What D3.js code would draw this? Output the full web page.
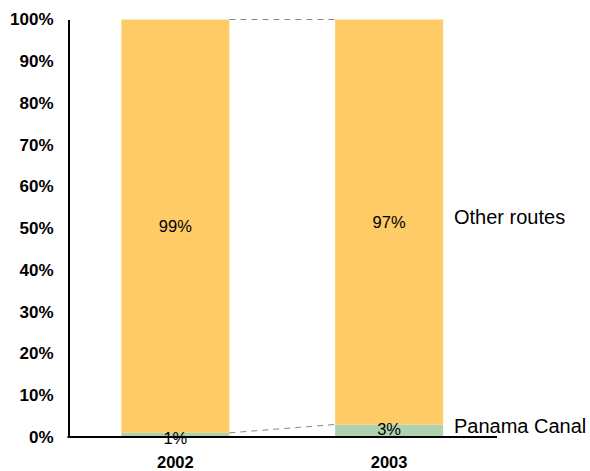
<!DOCTYPE html>
<html>
<head>
<meta charset="utf-8">
<script src="https://cdn.jsdelivr.net/npm/d3@7/dist/d3.min.js"></script>
<style>
  html, body { margin: 0; padding: 0; background: #fff; }
  svg { display: block; }
  text { font-family: "Liberation Sans", Arial, sans-serif; fill: #000; }
</style>
</head>
<body>
<svg id="chart" width="590" height="471"></svg>
<script>
// Share of traffic by route (percent)
const years = ["2002", "2003"];
const seriesNames = ["Panama Canal", "Other routes"];
const panamaCanal = [1, 3];
const otherRoutes = [99, 97];
const yTicks = [0, 10, 20, 30, 40, 50, 60, 70, 80, 90, 100];

const colors = { "Panama Canal": "#afd2ae", "Other routes": "#fecb66" };

const svg = d3.select("#chart");
const margin = { left: 68.5, top: 19.5, bottom: 34 };
const W = 590, H = 471;
const plotRight = 496;

// category slots with fixed-width bars centred in each
const x = d3.scalePoint().domain(years).range([margin.left, plotRight]).padding(0.5);
const barW = 108;
const cx = d => x(d);

const y = d3.scaleLinear().domain([0, 100]).range([H - margin.bottom, margin.top]);

const rows = years.map((yr, i) => ({ year: yr, "Panama Canal": panamaCanal[i], "Other routes": otherRoutes[i] }));
const stacked = d3.stack().keys(seriesNames)(rows);

// bars
const g = svg.append("g");
stacked.forEach(layer => {
  g.selectAll(null).data(layer).enter().append("rect")
    .attr("x", d => cx(d.data.year) - barW / 2)
    .attr("width", barW)
    .attr("y", d => y(d[1]))
    .attr("height", d => y(d[0]) - y(d[1]))
    .attr("fill", colors[layer.key]);
});

// dashed connectors between segment tops
stacked.forEach(layer => {
  const a = layer[0], b = layer[1];
  svg.append("line")
    .attr("x1", cx(a.data.year) + barW / 2)
    .attr("y1", y(a[1]))
    .attr("x2", cx(b.data.year) - barW / 2)
    .attr("y2", y(b[1]))
    .attr("stroke", "#888")
    .attr("stroke-width", 1)
    .attr("stroke-dasharray", "6,5");
});

// value labels
stacked.forEach(layer => {
  svg.selectAll(null).data(layer).enter().append("text")
    .attr("x", d => cx(d.data.year))
    .attr("y", d => layer.key === "Panama Canal" ? y(d[1]) + 5 : (y(d[0]) + y(d[1])) / 2)
    .attr("dy", "0.35em")
    .attr("text-anchor", "middle")
    .style("font-size", "16.5px")
    .text(d => (d[1] - d[0]) + "%");
});

// y axis
const yAxis = d3.axisLeft(y).tickValues(yTicks).tickSize(0).tickPadding(15)
  .tickFormat(d => d + "%");
const ya = svg.append("g").attr("transform", `translate(${margin.left},0)`).call(yAxis);
ya.select(".domain").attr("stroke", "#000").attr("stroke-width", 2);
ya.selectAll("text").style("font-size", "17px").style("font-weight", "bold")
  .style("font-family", "'Liberation Sans', Arial, sans-serif");

// x baseline and category labels
svg.append("line")
  .attr("x1", margin.left - 1).attr("x2", plotRight + 1)
  .attr("y1", y(0)).attr("y2", y(0))
  .attr("stroke", "#000").attr("stroke-width", 2);
svg.selectAll(".cat").data(years).enter().append("text")
  .attr("class", "cat")
  .attr("x", d => cx(d))
  .attr("y", 462)
  .attr("dy", "0.35em")
  .attr("text-anchor", "middle")
  .style("font-size", "16.5px")
  .style("font-weight", "bold")
  .text(d => d);

// series labels at the right
svg.append("text").attr("x", 454).attr("y", 217).attr("dy", "0.35em")
  .style("font-size", "20px").text("Other routes");
svg.append("text").attr("x", 454).attr("y", 426).attr("dy", "0.35em")
  .style("font-size", "20px").text("Panama Canal");
</script>
</body>
</html>
